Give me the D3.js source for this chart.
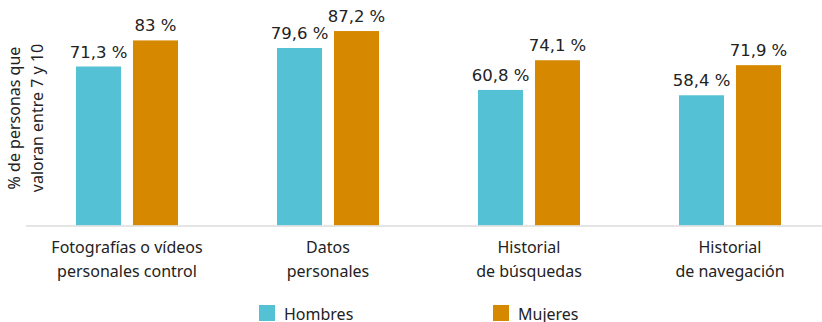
<!DOCTYPE html>
<html>
<head>
<meta charset="utf-8">
<script src="https://d3js.org/d3.v7.min.js"></script>
<style>
  body { margin: 0; background: #fff; }
  svg { display: block; }
</style>
</head>
<body>
<svg id="chart" width="822" height="322"></svg>
<script>
var categories = [
    ["Fotografías o vídeos", "personales control"],
    ["Datos", "personales"],
    ["Historial", "de búsquedas"],
    ["Historial", "de navegación"]
];
var series = ["Hombres", "Mujeres"];
var hombres = [71.3, 79.6, 60.8, 58.4];
var mujeres = [83, 87.2, 74.1, 71.9];
var colors = ["#55c1d4", "#d58800"];

var svg = d3.select("#chart"),
    base = 225.5,
    labelFont = "'Noto Sans', 'Open Sans', sans-serif",
    valueFont = "'DejaVu Sans', sans-serif";

var x = d3.scaleBand()
    .domain(d3.range(categories.length))
    .range([26.5, 830.5]);

var xs = d3.scaleBand()
    .domain(series)
    .range([-51, 51])
    .paddingInner(0.21);

var y = d3.scaleLinear().domain([0, 100]).range([base, 2.5]);

var rows = [];
categories.forEach(function(c, i) {
    rows.push({i: i, s: "Hombres", v: hombres[i]});
    rows.push({i: i, s: "Mujeres", v: mujeres[i]});
});

// bars
svg.selectAll("rect.bar").data(rows).join("rect")
    .attr("class", "bar")
    .attr("x", function(d) { return x(d.i) + x.bandwidth() / 2 + xs(d.s); })
    .attr("width", xs.bandwidth())
    .attr("y", function(d) { return y(d.v); })
    .attr("height", function(d) { return base - y(d.v); })
    .attr("fill", function(d) { return colors[series.indexOf(d.s)]; });

// value labels
var fmt = function(v) { return String(v).replace(".", ",") + " %"; };
svg.selectAll("text.val").data(rows).join("text")
    .attr("class", "val")
    .attr("x", function(d) { return x(d.i) + x.bandwidth() / 2 + xs(d.s) + xs.bandwidth() / 2; })
    .attr("y", function(d) { return y(d.v) - 9; })
    .attr("text-anchor", "middle")
    .style("font-family", valueFont)
    .style("font-size", "16.5px")
    .attr("fill", "#222")
    .text(function(d) { return fmt(d.v); });

// baseline
svg.append("line")
    .attr("x1", 26).attr("x2", 822)
    .attr("y1", base + 0.5).attr("y2", base + 0.5)
    .attr("stroke", "#dcdcdc").attr("stroke-width", 1.5);

// category labels
var cat = svg.selectAll("text.cat").data(categories).join("text")
    .attr("class", "cat")
    .attr("text-anchor", "middle")
    .style("font-family", labelFont)
    .style("font-size", "16px")
    .attr("fill", "#222");
cat.selectAll("tspan").data(function(d, i) { return d.map(function(t) { return {t: t, i: i}; }); })
    .join("tspan")
    .attr("x", function(d) { return x(d.i) + x.bandwidth() / 2; })
    .attr("y", function(d, j) { return 253 + j * 24; })
    .text(function(d) { return d.t; });

// y axis title
var yt = svg.append("text")
    .attr("transform", "translate(0,118) rotate(-90)")
    .attr("text-anchor", "middle")
    .style("font-family", labelFont)
    .style("font-size", "16px")
    .attr("fill", "#222");
yt.append("tspan").attr("x", 0).attr("y", 20).text("% de personas que");
yt.append("tspan").attr("x", 0).attr("y", 43).text("valoran entre 7 y 10");

// legend
var legX = [259, 493];
var leg = svg.selectAll("g.leg").data(series).join("g")
    .attr("class", "leg")
    .attr("transform", function(d, i) { return "translate(" + legX[i] + ",305)"; });
leg.append("rect").attr("width", 16).attr("height", 16)
    .attr("fill", function(d, i) { return colors[i]; });
leg.append("text")
    .attr("x", 25).attr("y", 15)
    .style("font-family", labelFont)
    .style("font-size", "16px")
    .attr("fill", "#222")
    .text(function(d) { return d; });
</script>
</body>
</html>
